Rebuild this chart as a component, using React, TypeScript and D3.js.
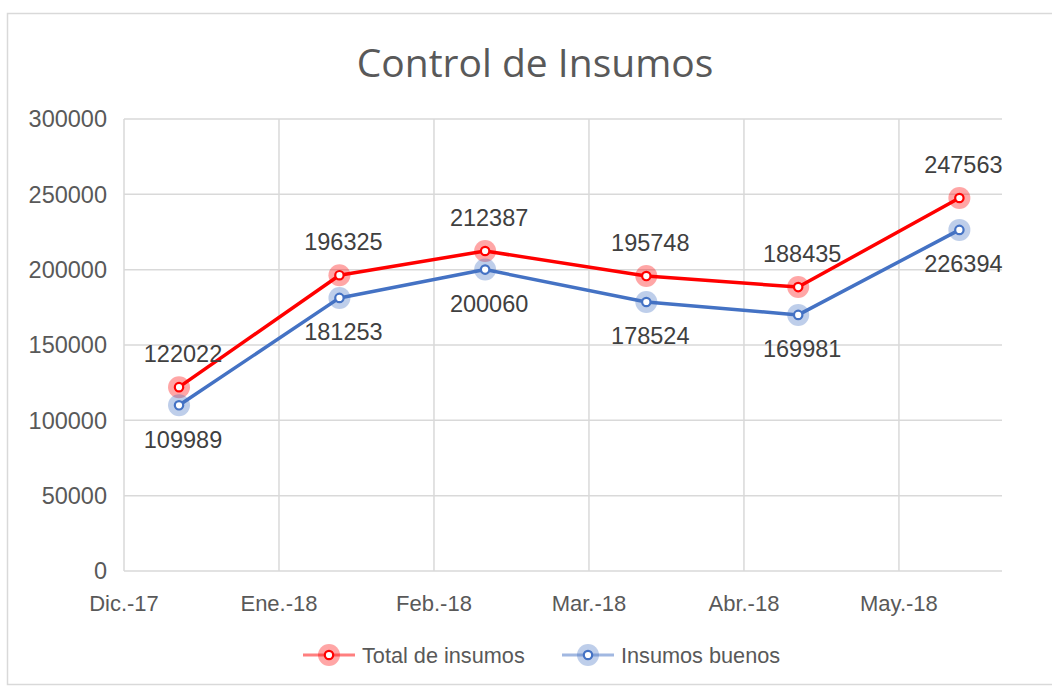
import React from 'react'
import * as d3 from 'd3'

// Datos
const MONTHS = ['Dic.-17', 'Ene.-18', 'Feb.-18', 'Mar.-18', 'Abr.-18', 'May.-18']
// posición de cada punto dentro del eje (en meses desde Dic.-17)
const POINT_X = [0.355, 1.39, 2.33, 3.37, 4.35, 5.39]
const TOTAL = [122022, 196325, 212387, 195748, 188435, 247563]
const BUENOS = [109989, 181253, 200060, 178524, 169981, 226394]
const Y_TICKS = [0, 50000, 100000, 150000, 200000, 250000, 300000]

const W = 1052
const H = 687
const PLOT = { left: 124, right: 1002, top: 119, bottom: 571 }
const GRID = '#d9d9d9'
const TEXT = '#595959'
const LABEL = '#404040'
const FONT = '"Liberation Sans", Arial, sans-serif'

const SERIES = [
  { name: 'Total de insumos', values: TOTAL, color: '#ff0000', labelDy: -33 },
  { name: 'Insumos buenos', values: BUENOS, color: '#4472c4', labelDy: 34 },
]

function Marker({ cx, cy, color }: { cx: number; cy: number; color: string }) {
  return (
    <g>
      <circle cx={cx} cy={cy} r={11} fill={color} fillOpacity={0.35} />
      <circle cx={cx} cy={cy} r={4.2} fill="#fff" stroke={color} strokeWidth={2.2} />
    </g>
  )
}

export default function App() {
  const x = d3.scaleLinear().domain([0, 5.665]).range([PLOT.left, PLOT.right])
  const y = d3.scaleLinear().domain([0, 300000]).range([PLOT.bottom, PLOT.top])
  const line = d3.line<number>()
    .x((_, i) => x(POINT_X[i]))
    .y((d) => y(d))

  return (
    <svg
      width={W}
      height={H}
      style={{ position: 'absolute', left: 0, top: 0, background: '#fff' }}
      fontFamily={FONT}
    >
      {/* marco del gráfico */}
      <rect x={7.5} y={13.5} width={1060} height={671} fill="#fff" stroke={GRID} strokeWidth={1.5} />

      <text
        x={535}
        y={77}
        textAnchor="middle"
        fontSize={39}
        fill={TEXT}
        fontFamily='"Open Sans", "Noto Sans", sans-serif'
      >
        Control de Insumos
      </text>

      {/* rejilla horizontal */}
      {Y_TICKS.map((t) => (
        <g key={t}>
          <line x1={PLOT.left} x2={PLOT.right} y1={y(t)} y2={y(t)} stroke={GRID} strokeWidth={1.5} />
          <text x={107} y={y(t)} dy="0.35em" textAnchor="end" fontSize={23.5} fill={TEXT}>
            {t}
          </text>
        </g>
      ))}

      {/* rejilla vertical */}
      {MONTHS.map((m, i) => (
        <g key={m}>
          <line x1={x(i)} x2={x(i)} y1={PLOT.top} y2={PLOT.bottom} stroke={GRID} strokeWidth={1.5} />
          <text x={x(i)} y={603} dy="0.35em" textAnchor="middle" fontSize={22} fill={TEXT}>
            {m}
          </text>
        </g>
      ))}

      {SERIES.map((s) => (
        <path key={s.name} d={line(s.values) ?? ''} fill="none" stroke={s.color} strokeWidth={3.5} strokeLinejoin="round" />
      ))}

      {SERIES.map((s) =>
        s.values.map((v, i) => (
          <Marker key={s.name + i} cx={x(POINT_X[i])} cy={y(v)} color={s.color} />
        ))
      )}

      {SERIES.map((s) =>
        s.values.map((v, i) => (
          <text
            key={'l' + s.name + i}
            x={x(POINT_X[i]) + 4}
            y={y(v) + s.labelDy}
            dy="0.35em"
            textAnchor="middle"
            fontSize={23.5}
            fill={LABEL}
          >
            {v}
          </text>
        ))
      )}

      {/* leyenda */}
      {SERIES.map((s, i) => {
        const lx = i === 0 ? 303 : 562
        return (
          <g key={'lg' + s.name} transform={`translate(${lx},655)`}>
            <line x1={0} x2={52} y1={0} y2={0} stroke={s.color} strokeWidth={3} strokeOpacity={0.5} />
            <Marker cx={26} cy={0} color={s.color} />
            <text x={59} y={0} dy="0.35em" fontSize={21.7} fill={TEXT}>
              {s.name}
            </text>
          </g>
        )
      })}
    </svg>
  )
}
